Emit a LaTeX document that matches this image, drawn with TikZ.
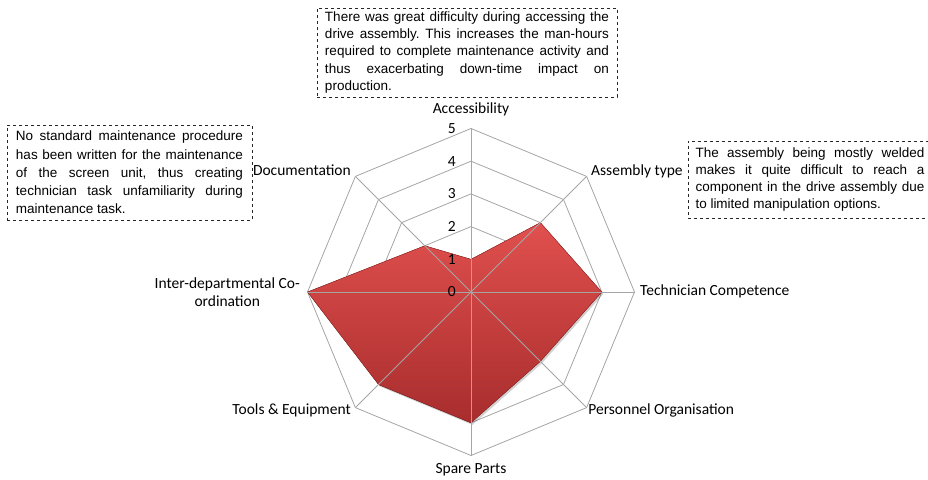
\documentclass[tikz,border=0pt]{standalone}
\usepackage{fontspec}
\setmainfont{Carlito}
\newfontfamily\notefont{Liberation Sans}
\usetikzlibrary{positioning}
\frenchspacing
\definecolor{gridgray}{RGB}{165,165,165}
\definecolor{areatop}{RGB}{224,80,78}
\definecolor{areabottom}{RGB}{168,45,45}
\definecolor{areaedge}{RGB}{150,38,38}
\tikzset{
  grid-line/.style={draw=gridgray, line width=0.8pt},
  axis-label/.style={font=\fontsize{15.5}{18}\selectfont, inner sep=0pt, text height=10pt, text depth=3pt},
  scale-label/.style={font=\fontsize{15.5}{18}\selectfont, inner sep=0pt, anchor=east},
  note-box/.style={draw=black!85, dashed, line width=0.6pt, align=justify, inner sep=0pt},
}
\def\unit{32.7}

\begin{document}
\begin{tikzpicture}[x=1pt,y=1pt]
  \useasboundingbox (-471,-187) rectangle (457,292);
  \coordinate (centre) at (0,0);
  \coordinate (access-end) at (90:5*\unit);
  \coordinate (assembly-end) at (45:5*\unit);
  \coordinate (technician-end) at (0:5*\unit);
  \coordinate (personnel-end) at (-45:5*\unit);
  \coordinate (spare-end) at (-90:5*\unit);
  \coordinate (tools-end) at (-135:5*\unit);
  \coordinate (interdept-end) at (180:5*\unit);
  \coordinate (documentation-end) at (135:5*\unit);
  \foreach \r in {1,...,5}
    \draw[grid-line] (90:\r*\unit) -- (45:\r*\unit) -- (0:\r*\unit) -- (-45:\r*\unit)
          -- (-90:\r*\unit) -- (-135:\r*\unit) -- (180:\r*\unit) -- (135:\r*\unit) -- cycle;
  \fill[preaction={fill=black, opacity=0.18, transform canvas={xshift=1.5pt, yshift=-2pt}},
        top color=areatop, bottom color=areabottom, draw=areaedge, line width=0.4pt]
        (90:1*\unit) -- (45:3*\unit) -- (0:4*\unit) -- (-45:3*\unit) -- (-90:4*\unit)
        -- (-135:4*\unit) -- (180:5*\unit) -- (135:2*\unit) -- cycle;
  \foreach \e in {access-end, assembly-end, technician-end, personnel-end,
                  spare-end, tools-end, interdept-end, documentation-end}
    \draw[grid-line] (centre) -- (\e);
  \foreach \k in {0,...,5}
    \node[scale-label] (tick-\k) at (-15,\k*\unit) {\k};
  \node[axis-label, above=12pt of access-end] (access-label) {Accessibility};
  \node[axis-label, right=4.4pt of assembly-end, yshift=4.4pt] (assembly-label) {Assembly type};
  \node[axis-label, right=5.5pt of technician-end] (technician-label) {Technician Competence};
  \node[axis-label, right=1.5pt of personnel-end, yshift=-3.5pt] (personnel-label) {Personnel Organisation};
  \node[axis-label, below=8pt of spare-end] (spare-label) {Spare Parts};
  \node[axis-label, left=4.4pt of tools-end, yshift=-3.5pt] (tools-label) {Tools \& Equipment};
  \node[font=\fontsize{15.5}{18}\selectfont, inner sep=0pt, align=center, left=7.5pt of interdept-end]
       (interdept-label) {Inter-departmental Co-\\ordination};
  \node[axis-label, left=4.4pt of documentation-end, yshift=4.4pt] (documentation-label) {Documentation};
  \node[note-box, font=\notefont\fontsize{13.5}{17.3}\selectfont, text width=284pt,
        minimum width=300pt, minimum height=89pt] (access-note) at (-4,239.5)
       {There was great difficulty during accessing the\linebreak
        drive assembly. This increases the man-hours\linebreak
        required to complete maintenance activity and\linebreak
        thus exacerbating down-time impact on\linebreak
        production.};
  \node[note-box, font=\notefont\fontsize{13.5}{18.2}\selectfont, text width=227pt,
        minimum width=245pt, minimum height=95pt] (documentation-note) at (-341.5,119.5)
       {No standard maintenance procedure\linebreak
        has been written for the maintenance\linebreak
        of the screen unit, thus creating\linebreak
        technician task unfamiliarity during\linebreak
        maintenance task.};
  \node[note-box, font=\notefont\fontsize{13.5}{16.7}\selectfont, text width=229pt,
        minimum width=244pt, minimum height=77pt] (assembly-note) at (339,112.5)
       {The assembly being mostly welded\linebreak
        makes it quite difficult to reach a\linebreak
        component in the drive assembly due\linebreak
        to limited manipulation options.};
\end{tikzpicture}
\end{document}
